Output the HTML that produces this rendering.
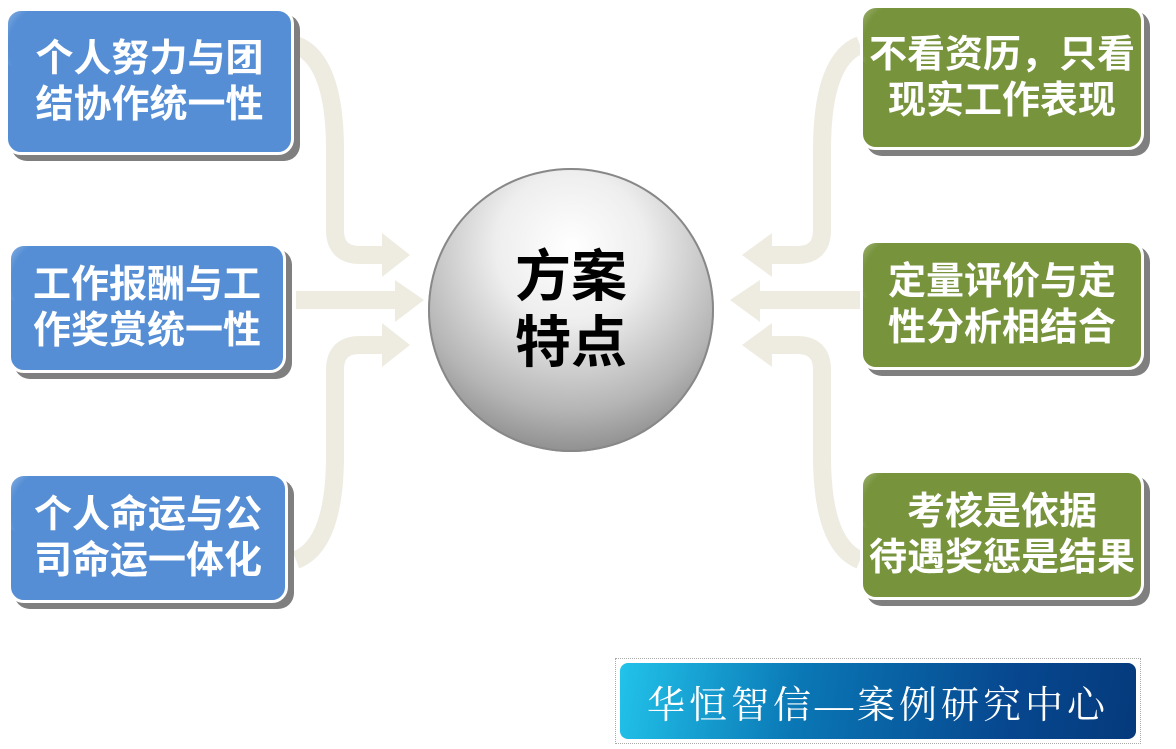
<!DOCTYPE html>
<html><head><meta charset="utf-8"><style>
body{margin:0;width:1176px;height:749px;background:#fff;position:relative;overflow:hidden;font-family:"Liberation Sans","Noto Sans CJK SC",sans-serif}
.b{position:absolute;border:3px solid #fff;border-radius:16px;box-shadow:6px 6px 0 #7f7f7f;color:#fff;font-weight:bold;font-size:38px;line-height:46px;display:flex;align-items:center;justify-content:center;text-align:center;box-sizing:border-box;overflow:hidden;white-space:nowrap}
.bl{background:#558ed5}.gr{background:#77933c}
.b:before{content:"";position:absolute;left:-20px;top:-20px;width:90px;height:80px;border-radius:50%;background:radial-gradient(circle at 70% 70%,rgba(255,255,255,0) 50%,rgba(255,255,255,.35) 70%,rgba(255,255,255,0) 72%)}
.c{position:absolute;left:428px;top:168px;width:286px;height:284px;border-radius:50%;background:radial-gradient(circle at 50% 28%,#fff 0%,#eee 30%,#b5b5b5 65%,#7a7a7a 92%,#666 100%);box-shadow:0 0 0 2px #888 inset;display:flex;align-items:center;justify-content:center;font-size:56px;font-weight:bold;line-height:66px;text-align:center;color:#000}
.f{position:absolute;left:615px;top:658px;width:526px;height:86px;border:1px dotted #aaa;box-sizing:border-box;padding:4px}
.f div{height:100%;border-radius:8px;background:linear-gradient(100deg,#22c3ea 0%,#0a77b5 35%,#07478f 75%,#053a7c 100%);color:#fff;font-family:"Liberation Serif","Noto Serif CJK SC",serif;font-size:38px;display:flex;align-items:center;justify-content:center;letter-spacing:4px}
</style></head><body>
<svg width="1176" height="749" style="position:absolute;left:0;top:0">
<g fill="none" stroke="#eeece1" stroke-width="18">
<path d="M296 45 Q335 60 335 150 L335 230 Q335 255 360 255 L385 255"/>
<path d="M296 300 L395 300"/>
<path d="M296 560 Q335 545 335 455 L335 370 Q335 345 360 345 L385 345"/>
<path d="M860 45 Q822 60 822 150 L822 230 Q822 255 797 255 L770 255"/>
<path d="M860 300 L760 300"/>
<path d="M860 560 Q822 545 822 455 L822 370 Q822 345 797 345 L770 345"/>
</g>
<g fill="#eeece1">
<polygon points="382,233 410,255 382,277"/>
<polygon points="395,280 424,300 395,322"/>
<polygon points="382,323 410,345 382,367"/>
<polygon points="772,233 742,255 772,277"/>
<polygon points="760,280 730,300 760,322"/>
<polygon points="772,323 742,345 772,367"/>
</g></svg>
<div class="b bl" style="left:5px;top:8px;width:289px;height:147px">个人努力与团<br>结协作统一性</div>
<div class="b bl" style="left:8px;top:243px;width:278px;height:130px">工作报酬与工<br>作奖赏统一性</div>
<div class="b bl" style="left:8px;top:473px;width:280px;height:130px">个人命运与公<br>司命运一体化</div>
<div class="b gr" style="left:860px;top:5px;width:284px;height:145px">不看资历，只看<br>现实工作表现</div>
<div class="b gr" style="left:860px;top:240px;width:284px;height:130px">定量评价与定<br>性分析相结合</div>
<div class="b gr" style="left:860px;top:470px;width:284px;height:130px">考核是依据<br>待遇奖惩是结果</div>
<div class="c">方案<br>特点</div>
<div class="f"><div>华恒智信—案例研究中心</div></div>
</body></html>
